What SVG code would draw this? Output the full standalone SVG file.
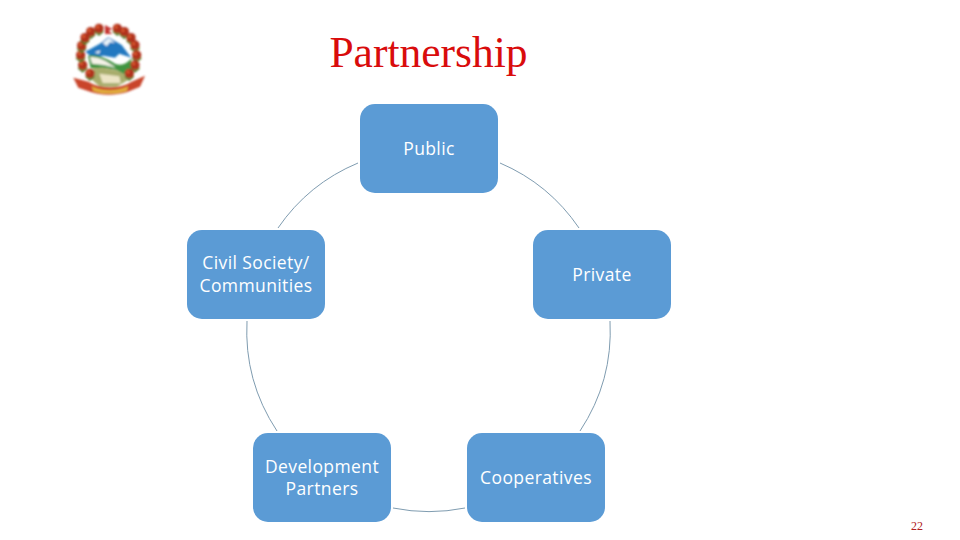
<svg xmlns="http://www.w3.org/2000/svg" width="960" height="540" viewBox="0 0 960 540">
<defs>
<filter id="soft" x="-10%" y="-10%" width="120%" height="120%"><feGaussianBlur stdDeviation="2.4"/></filter>
<g id="fl"><path d="M-13 8L0 19L13 8" fill="none" stroke="#4f7a2a" stroke-width="6"/><circle r="14" fill="#b0301d"/><circle cx="-4" cy="-4" r="5" fill="#d9582e"/></g>
</defs>
<style>
.box{fill:#5b9bd5}
.lbl{font-family:"Open Sans","Noto Sans",sans-serif;font-size:17.5px;letter-spacing:.4px;fill:#fff;text-anchor:middle}
.arc{fill:none;stroke:#7f9cb0;stroke-width:1}
</style>
<rect width="960" height="540" fill="#fff"/>
<g id="emblem" transform="translate(60 15) scale(.33333)" filter="url(#soft)">
<path d="M76 110L122 85L145 66L185 90L214 128L178 116L165 128L130 122L100 130Z" fill="#2278c0"/>
<path d="M128 84L146 68L165 84L150 82L140 94ZM104 112L122 106L116 116Z" fill="#e8f2f8"/>
<path d="M84 122C110 118 135 128 165 146C185 154 200 146 214 130L214 178L195 182L170 165L130 158L92 160Z" fill="#3f9440"/>
<path d="M90 126C115 124 140 138 168 158L130 150L96 146Z" fill="#f5f2e8"/>
<path d="M100 160L130 158L170 166L195 178L205 195L170 215L120 215L90 190Z" fill="#a8ad6c"/>
<path d="M118 176L178 184L182 204L128 204Z" fill="#ece4c4"/>
<path d="M135 30L157 42L146 47L157 57L135 57Z" fill="#c4322e"/>
<path d="M40 188L85 200C120 222 180 222 215 200L255 182L240 215L200 232C165 242 125 242 95 232L55 218Z" fill="#c9442a"/>
<path d="M95 214C125 230 170 230 205 214L200 228C165 238 130 238 100 228Z" fill="#e3b23c"/>
<use href="#fl" x="92" y="50"/><use href="#fl" x="117" y="40"/><use href="#fl" x="172" y="40"/><use href="#fl" x="193" y="50"/>
<use href="#fl" x="213" y="68"/><use href="#fl" x="225" y="90"/><use href="#fl" x="230" y="120"/><use href="#fl" x="225" y="150"/><use href="#fl" x="208" y="175"/>
<use href="#fl" x="90" y="175"/><use href="#fl" x="68" y="150"/><use href="#fl" x="62" y="120"/><use href="#fl" x="65" y="92"/><use href="#fl" x="75" y="68"/>
</g>
<text id="title" x="428.500" y="67" font-family="'Liberation Serif',serif" font-size="43.500" fill="#d90c0c" text-anchor="middle">Partnership</text>
<g id="connectors">
<path class="arc" d="M358 163A182 182 0 0 0 278 228"/>
<path class="arc" d="M500 163A182 182 0 0 1 579 228"/>
<path class="arc" d="M610 321A182 182 0 0 1 580 431"/>
<path class="arc" d="M465 508A182 182 0 0 1 393 508"/>
<path class="arc" d="M277 431A182 182 0 0 1 247 321"/>
</g>
<g id="public"><rect class="box" x="360" y="104" width="138" height="89" rx="15"/><text class="lbl" x="429" y="155">Public</text></g>
<g id="private"><rect class="box" x="533" y="230" width="138" height="89" rx="15"/><text class="lbl" x="602" y="281">Private</text></g>
<g id="cooperatives"><rect class="box" x="467" y="433" width="138" height="89" rx="15"/><text class="lbl" x="536" y="484">Cooperatives</text></g>
<g id="development"><rect class="box" x="253" y="433" width="138" height="89" rx="15"/><text class="lbl" x="322" y="473">Development</text><text class="lbl" x="322" y="495">Partners</text></g>
<g id="civil"><rect class="box" x="187" y="230" width="138" height="89" rx="15"/><text class="lbl" x="256" y="269">Civil Society/</text><text class="lbl" x="256" y="292">Communities</text></g>
<text id="page" x="917" y="530" font-family="'Liberation Serif',serif" font-size="12" fill="#b02020" text-anchor="middle">22</text>
</svg>
